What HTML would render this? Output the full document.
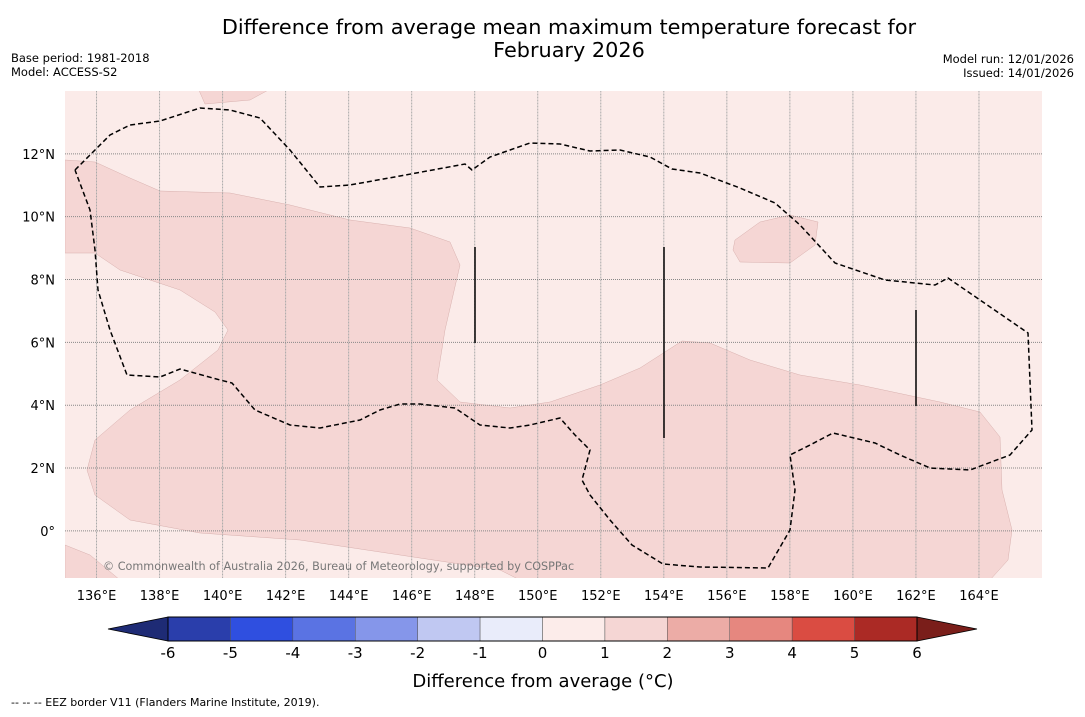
<!DOCTYPE html>
<html><head><meta charset="utf-8"><style>
body{margin:0;background:#fff;font-family:"DejaVu Sans","Liberation Sans",sans-serif;}
svg text{font-family:"DejaVu Sans","Liberation Sans",sans-serif;}
</style></head><body>
<svg id="c" width="1085" height="713" xmlns="http://www.w3.org/2000/svg">
<text x="569" y="34" font-size="20.8" text-anchor="middle">Difference from average mean maximum temperature forecast for</text>
<text x="569" y="57" font-size="20.8" text-anchor="middle">February 2026</text>
<text x="11" y="62" font-size="11.5">Base period: 1981-2018</text>
<text x="11" y="76" font-size="11.5">Model: ACCESS-S2</text>
<text x="1074" y="63" font-size="11.5" text-anchor="end">Model run: 12/01/2026</text>
<text x="1074" y="77" font-size="11.5" text-anchor="end">Issued: 14/01/2026</text>
<defs><clipPath id="mc"><rect x="65" y="91" width="977" height="487"/></clipPath></defs>
<g id="map" clip-path="url(#mc)">
<rect x="65" y="91" width="977" height="487" fill="#fbebe9"/>
<polygon fill="#f5d6d4" stroke="#d8b0ae" stroke-width="0.5" points="65,160 95,162 130,178 160,191 230,193 290,205 350,220 410,228 450,242 460,265 445,330 437,380 460,402 510,408 550,402 600,385 640,368 682,341 710,343 750,360 800,375 860,385 940,402 980,412 1000,437 1002,490 1012,530 1008,560 990,580 520,580 500,570 400,555 300,540 200,533 130,520 95,495 87,470 95,440 130,410 180,380 218,350 228,330 215,312 180,290 120,270 95,253 65,253"/>
<polygon fill="#f5d6d4" stroke="#d8b0ae" stroke-width="0.5" points="198,88 272,88 250,100 205,104"/>
<polygon fill="#f5d6d4" stroke="#d8b0ae" stroke-width="0.5" points="735,240 760,222 790,215 818,222 815,245 790,263 740,262 733,250"/>
<polygon fill="#f5d6d4" stroke="#d8b0ae" stroke-width="0.5" points="65,545 90,555 120,580 65,580"/>
<g id="grid"></g>
<polyline fill="none" stroke="#000" stroke-width="1.5" stroke-dasharray="5,3" points="75,170 90,155 110,135 130,125 160,121 200,108 230,110 260,118 290,150 320,187 350,185 400,176 465,164 472,170 490,157 530,143 560,144 590,151 620,150 650,157 672,169 700,173 740,188 775,203 800,225 835,263 885,280 935,285 948,278 980,300 1028,333 1032,430 1010,455 970,470 930,468 900,455 875,443 833,433 810,445 790,455 795,490 790,530 768,568 700,567 663,564 632,545 610,520 590,495 582,480 590,450 575,435 560,418 530,425 510,428 480,425 455,408 420,404 400,404 380,410 360,420 320,428 290,425 255,410 232,383 220,380 180,369 160,377 127,375 110,330 98,290 95,250 90,210 75,170"/>
<line x1="475" y1="247" x2="475" y2="343" stroke="#000" stroke-width="1.5"/>
<line x1="664" y1="247" x2="664" y2="438" stroke="#000" stroke-width="1.5"/>
<line x1="916" y1="310" x2="916" y2="406" stroke="#000" stroke-width="1.5"/>
<text x="103" y="570" font-size="11.2" fill="#777">© Commonwealth of Australia 2026, Bureau of Meteorology, supported by COSPPac</text>
</g>
<g id="axes"></g>
<g id="cbar"></g>
<text x="543" y="687" font-size="18" text-anchor="middle">Difference from average (°C)</text>
<text x="11" y="706" font-size="11">-- -- -- EEZ border V11 (Flanders Marine Institute, 2019).</text>
</svg>
<script>
const lonTicks=[136,138,140,142,144,146,148,150,152,154,156,158,160,162,164];
const latTicks=[12,10,8,6,4,2,0];
const cbLevels=[-6,-5,-4,-3,-2,-1,0,1,2,3,4,5,6];
const cbColors=["#2a3eab","#2f4fe0","#5a73e3","#8596ea","#c0c8f2","#e9ecfa","#fcecea","#f5d6d4","#ecaca6","#e6877f","#da4c42","#ab2a25"];
const cbUnder="#1e2b75", cbOver="#7a1e1a";
const NS="http://www.w3.org/2000/svg";
const x=lon=>65+(lon-135)*977/31;
const y=lat=>91+(14-lat)*487/15.5;
const cx=v=>168+(v+6)*(917-168)/12;
function mk(t,a,p){const e=document.createElementNS(NS,t);for(const k in a)e.setAttribute(k,a[k]);p.appendChild(e);return e;}
const g=document.getElementById('grid'),ax=document.getElementById('axes'),cb=document.getElementById('cbar');
lonTicks.forEach(l=>{
 const ln=mk('line',{x1:x(l),x2:x(l),y1:91,y2:578,stroke:'#aaa','stroke-width':1,'stroke-dasharray':'1,0.5'},g);
 
 
 const t=mk('text',{x:x(l),y:600,'font-size':13,'text-anchor':'middle'},ax);t.textContent=l+'°E';
 
 
});
latTicks.forEach(l=>{
 const ln=mk('line',{x1:65,x2:1042,y1:y(l),y2:y(l),stroke:'#888','stroke-width':1,'stroke-dasharray':'1,1'},g);
 
 
 const t=mk('text',{x:55,y:y(l)+5,'font-size':13,'text-anchor':'end'},ax);t.textContent=l===0?'0°':l+'°N';
 
 
});
cbColors.forEach((c,i)=>{
 const r=mk('rect',{x:cx(cbLevels[i]),y:617,width:cx(cbLevels[i+1])-cx(cbLevels[i]),height:24,fill:c,stroke:'#555','stroke-width':0.5},cb);
 
 
});
const u=mk('polygon',{points:`${cx(-6)},617 108,629 ${cx(-6)},641`,fill:cbUnder,stroke:'#000','stroke-width':0.8},cb);


const o=mk('polygon',{points:`${cx(6)},617 977,629 ${cx(6)},641`,fill:cbOver,stroke:'#000','stroke-width':0.8},cb);


mk('rect',{x:cx(-6),y:617,width:cx(6)-cx(-6),height:24,fill:'none',stroke:'#000','stroke-width':1},cb);
cbLevels.forEach(v=>{
 const t=mk('text',{x:cx(v),y:658,'font-size':15,'text-anchor':'middle'},cb);t.textContent=v;
 
 
});
</script>
</body></html>
